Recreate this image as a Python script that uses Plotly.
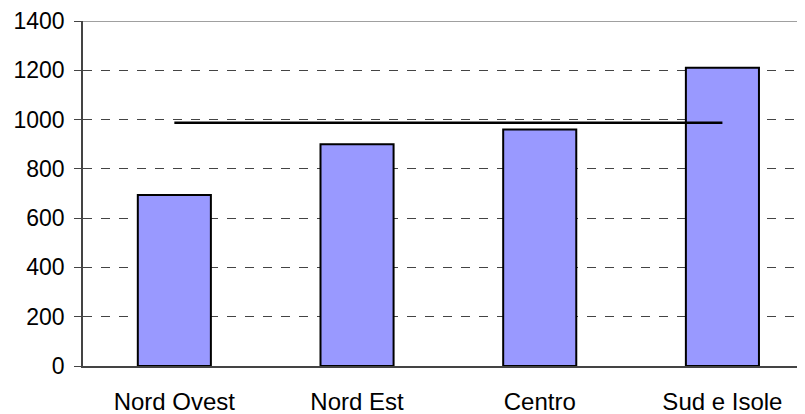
import plotly.graph_objects as go

categories = ["Nord Ovest", "Nord Est", "Centro", "Sud e Isole"]
values = [694, 900, 960, 1210]
average = [987, 987, 987, 987]
y_ticks = [0, 200, 400, 600, 800, 1000, 1200, 1400]

yfont = dict(family="Liberation Sans, Arial, sans-serif", size=23, color="black")
xfont = dict(family="Liberation Sans, Arial, sans-serif", size=24, color="black")

fig = go.Figure()
fig.add_trace(go.Bar(
    x=categories, y=values,
    marker=dict(color="#9999ff", line=dict(color="black", width=2)),
    showlegend=False,
))
fig.add_trace(go.Scatter(
    x=categories, y=average, mode="lines",
    line=dict(color="black", width=2.5),
    showlegend=False,
))

fig.update_layout(
    width=797, height=406,
    margin=dict(l=75, r=0, t=13, b=48),
    paper_bgcolor="white", plot_bgcolor="white",
    bargap=0.6,
    font=yfont,
    xaxis=dict(
        range=[-0.5, 3.452],
        showgrid=False, showline=True, linecolor="#444444", linewidth=1.5,
        mirror=False, ticks="", tickfont=xfont, zeroline=False,
        ticklabelstandoff=13,
    ),
    yaxis=dict(
        range=[0, 1400], tickvals=y_ticks,
        showgrid=True, gridcolor="#444444", griddash="dash", gridwidth=1,
        showline=True, linecolor="#444444", linewidth=1.5,
        ticks="outside", ticklen=7, tickcolor="#444444",
        tickfont=yfont, zeroline=False, ticklabelstandoff=5,
    ),
)
fig.add_shape(type="line", xref="paper", yref="y", x0=0, x1=1, y0=1400, y1=1400,
              line=dict(color="#808080", width=1.5))
fig.write_html("out.html")
